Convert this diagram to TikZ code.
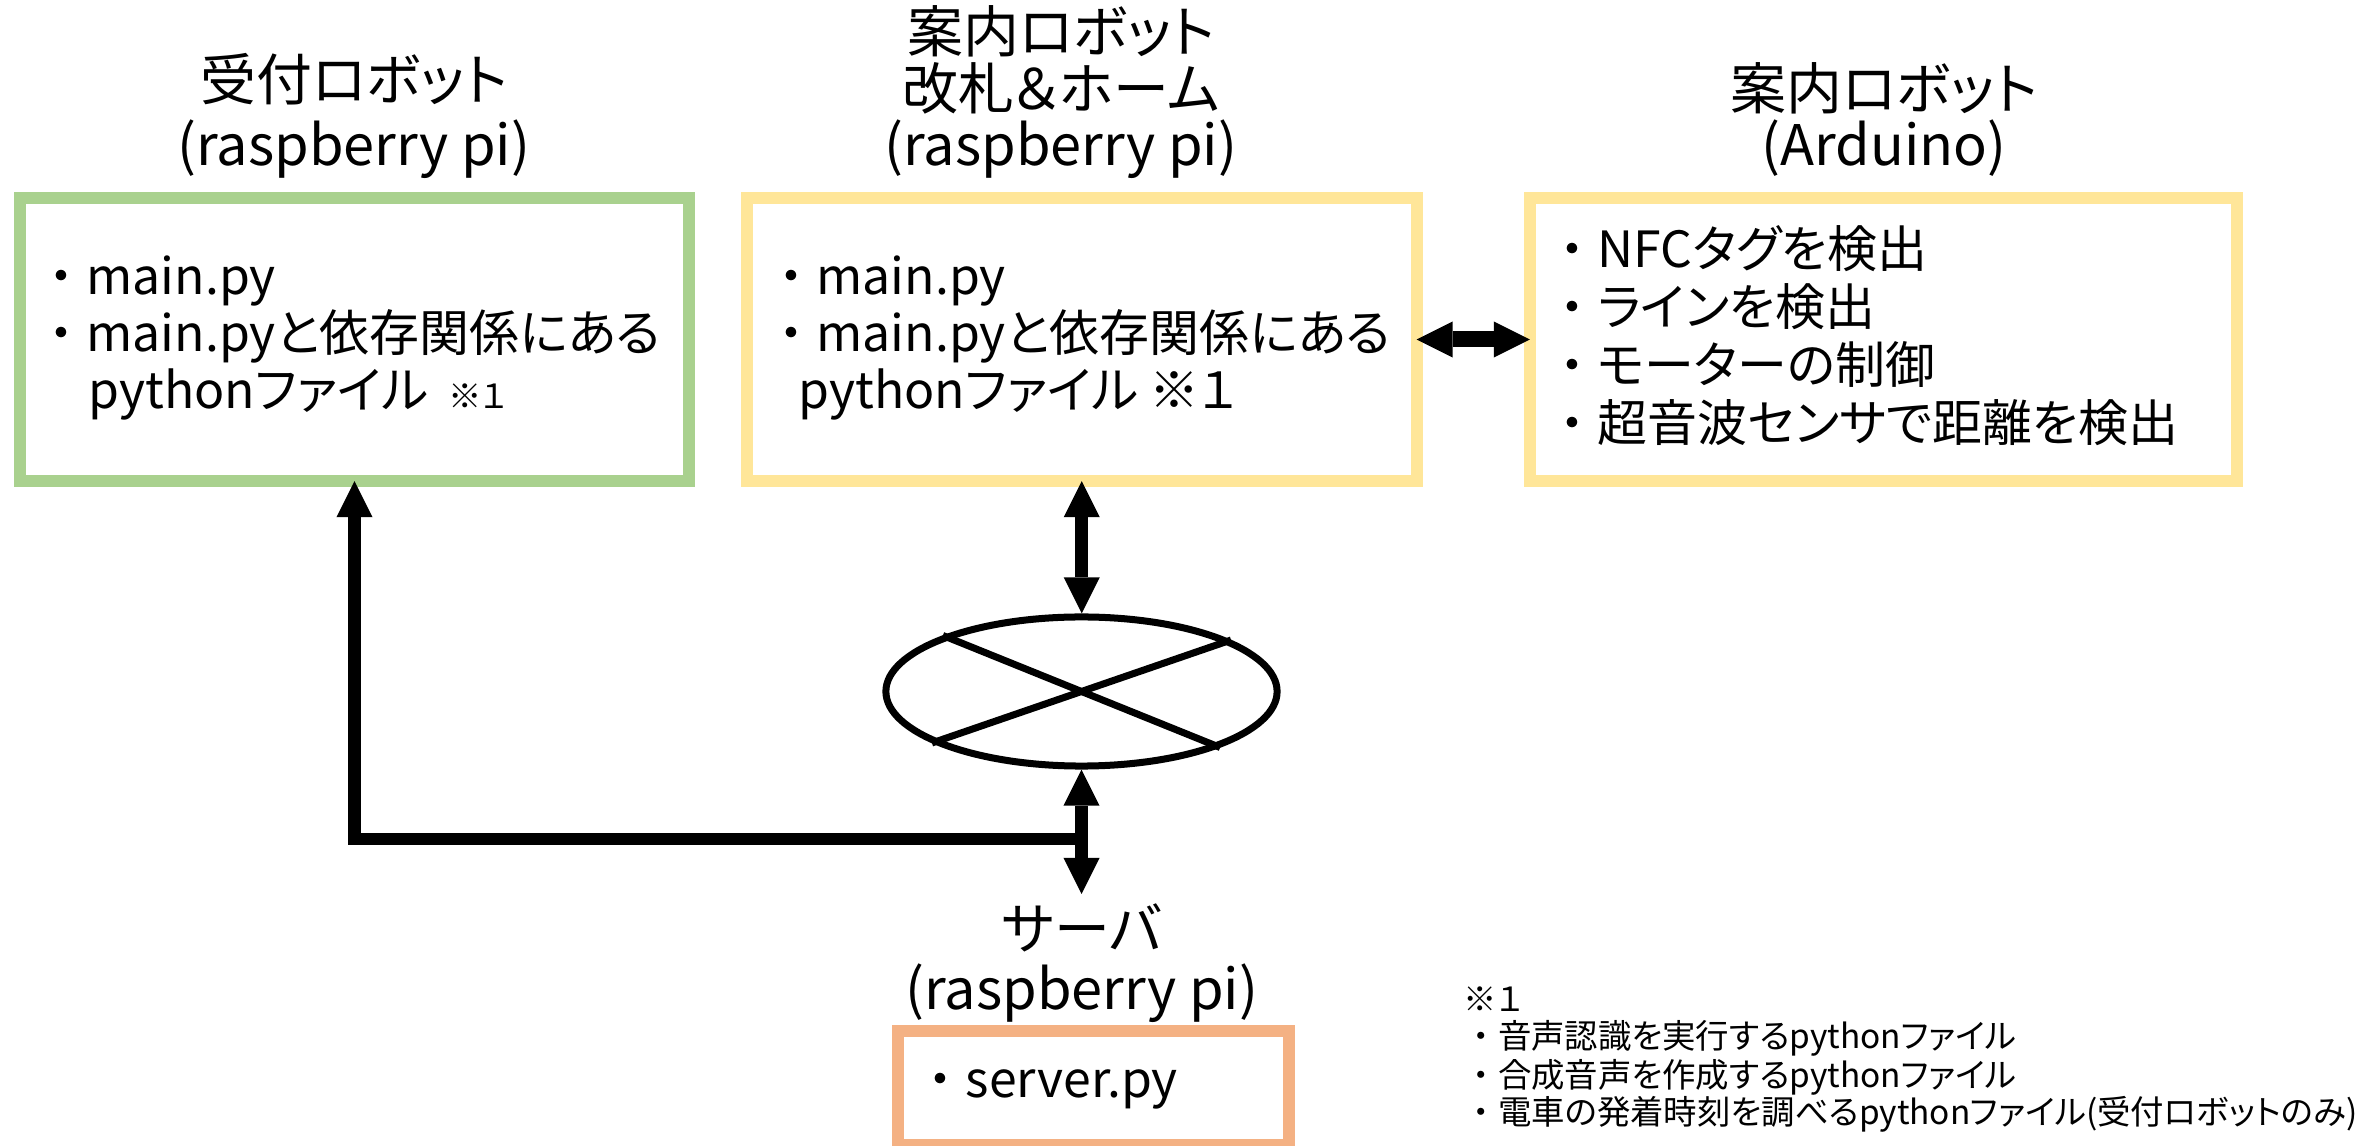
\documentclass[tikz,border=0pt]{standalone}
\usepackage{fontspec}
\setmainfont{Noto Sans CJK JP}[RawFeature=+palt]
\usetikzlibrary{arrows.meta,shapes.geometric}
\definecolor{boxgreen}{HTML}{A9D18E}
\definecolor{boxyellow}{HTML}{FFE699}
\definecolor{boxorange}{HTML}{F4B183}
\newcommand\bul{\makebox[1em][c]{・}}
\tikzset{Tri/.tip={Triangle[length=0.36cm,width=0.36cm,line width=0pt]}}
\begin{document}
\begin{tikzpicture}[x=0.01cm,y=-0.01cm,
  frame/.style={draw, line width=0.12cm, inner sep=0pt, outer sep=0pt},
  lbl/.style={font=\fontsize{15.9pt}{19pt}\selectfont, inner sep=0pt, anchor=base},
  txt/.style={font=\fontsize{14.2pt}{17pt}\selectfont, inner sep=0pt, anchor=base west},
  note/.style={font=\fontsize{9.5pt}{11pt}\selectfont, inner sep=0pt, anchor=base west},
  conn/.style={line width=0.13cm},
  xline/.style={line width=0.07cm}]
\useasboundingbox (0,0) rectangle (2374,1146);
% boxes
\node[frame, draw=boxgreen, minimum width=6.69cm, minimum height=2.83cm] (recv) at (354.5,339.5) {};
\node[frame, draw=boxyellow, minimum width=6.695cm, minimum height=2.83cm] (guide) at (1081.75,339.5) {};
\node[frame, draw=boxyellow, minimum width=7.07cm, minimum height=2.83cm] (ard) at (1883.5,339.5) {};
\node[frame, draw=boxorange, minimum width=3.91cm, minimum height=1.14cm] (srv) at (1093.5,1088) {};
\node[ellipse, draw, line width=0.07cm, minimum width=3.91cm, minimum height=1.49cm, inner sep=0pt] (hub) at (1081.5,691.5) {};
% labels
\node[lbl] (recvL1) at (354,101) {受付ロボット};
\node[lbl] (recvL2) at (354,166) {(raspberry pi)};
\node[lbl] (guideL1) at (1061,53) {案内ロボット};
\node[lbl] (guideL2) at (1061,110) {改札＆ホーム};
\node[lbl] (guideL3) at (1061,166) {(raspberry pi)};
\node[lbl] (ardL1) at (1884,110) {案内ロボット};
\node[lbl] (ardL2) at (1884,166) {(Arduino)};
\node[lbl] (srvL1) at (1082,950) {サーバ};
\node[lbl] (srvL2) at (1082,1010) {(raspberry pi)};
% box texts
\node[txt] (r1) at (36,295) {\bul main.py};
\node[txt] (r2) at (36,352) {\bul main.pyと依存関係にある};
\node[txt] (r3) at (88,409) {pythonファイル\hspace{0.2cm}{\fontsize{9.5pt}{11pt}\selectfont ※１}};
\node[txt] (g1) at (766,295) {\bul main.py};
\node[txt] (g2) at (766,352) {\bul main.pyと依存関係にある};
\node[txt] (g3) at (798,409) {pythonファイル ※１};
\node[txt] (a1) at (1547,268) {\bul NFCタグを検出};
\node[txt] (a2) at (1547,326) {\bul ラインを検出};
\node[txt] (a3) at (1547,384) {\bul モーターの制御};
\node[txt] (a4) at (1547,442) {\bul 超音波センサで距離を検出};
\node[txt] (s1) at (915,1098) {\bul server.py};
% footnote
\node[note] (n0) at (1463,1012) {※１};
\node[note] (n1) at (1464,1049) {\bul 音声認識を実行するpythonファイル};
\node[note] (n2) at (1464,1087) {\bul 合成音声を作成するpythonファイル};
\node[note] (n3) at (1464,1124) {\bul 電車の発着時刻を調べるpythonファイル(受付ロボットのみ)};
% hub cross
\draw[xline] (hub.158) -- (hub.-22);
\draw[xline] (hub.19) -- (hub.199);
% connectors
\coordinate (srvtop) at (1081.5,894);
\coordinate (jn) at (1081.5,839);
\draw[conn, line width=0.16cm, Tri-Tri] (guide.east) -- (ard.west);
\draw[conn, Tri-Tri] (guide.south) -- (guide.south |- hub.north);
\draw[conn, Tri-Tri] (hub.south) -- (srvtop);
\draw[conn, line width=0.12cm, -Tri] (jn) -| (recv.south);
\end{tikzpicture}
\end{document}
